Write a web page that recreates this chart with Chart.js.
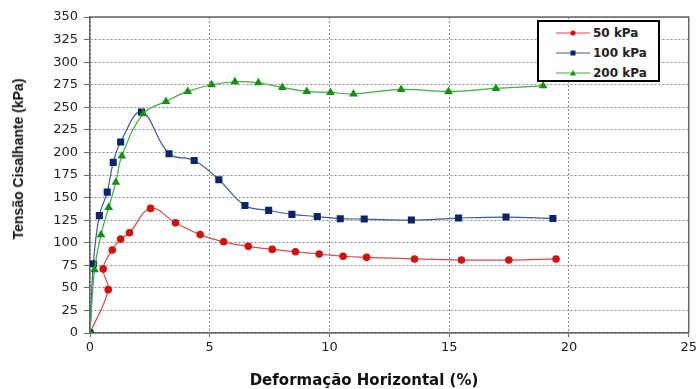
<!DOCTYPE html>
<html lang="pt">
<head>
<meta charset="UTF-8">
<title>Tensão x Deformação</title>
<script src="https://cdn.jsdelivr.net/npm/chart.js"></script>
<style>
    html, body { margin: 0; padding: 0; background: #fff; }
    .wrap { position: relative; width: 700px; height: 389px; }
    canvas { position: absolute; left: 0; top: 0; }
    .ytitle {
        position: absolute; left: 18px; top: 159px;
        transform: translate(-50%, -50%) rotate(-90deg);
        font: bold 14px "Liberation Sans", Arial, sans-serif;
        color: #111; white-space: nowrap;
    }
    .xtitle {
        position: absolute; left: 364px; top: 380px;
        transform: translate(-50%, -50%);
        font: bold 15px "DejaVu Sans", sans-serif;
        color: #111; white-space: nowrap;
    }
    .legend {
        position: absolute; left: 537px; top: 20px; width: 119px; height: 58px;
        border: 2px solid #000; background: #fff;
        font: bold 12px "DejaVu Sans", sans-serif; color: #222;
    }
    .legend .row { position: absolute; left: 0; height: 14px; }
    .legend .row span.txt { position: absolute; left: 54px; top: 0; line-height: 14px; white-space: nowrap; }
    .legend canvas { position: absolute; left: 17px; top: 0; }
</style>
</head>
<body>
<div class="wrap">
    <canvas id="chart" width="700" height="389"></canvas>
    <div class="ytitle">Tensão Cisalhante (kPa)</div>
    <div class="xtitle">Deformação Horizontal (%)</div>
    <div class="legend" id="legend"></div>
</div>
<script>
    // 50 kPa
    const x50 = [0, 0.76, 0.55, 0.93, 1.28, 1.65, 2.53, 3.57, 4.6, 5.58, 6.61, 7.61, 8.58, 9.57, 10.57, 11.55, 13.55, 15.51, 17.49, 19.46];
    const y50 = [0, 48, 71, 92, 104, 111, 138, 122, 109, 101, 96, 92.6, 90, 87.5, 85, 83.8, 82, 80.8, 80.8, 82];
    // 100 kPa
    const x100 = [0, 0.14, 0.39, 0.72, 0.97, 1.28, 2.15, 3.3, 4.35, 5.38, 6.47, 7.46, 8.43, 9.49, 10.45, 11.45, 13.42, 15.39, 17.37, 19.33];
    const y100 = [0, 76.7, 130, 156, 189, 211.5, 244.7, 198.6, 191, 169.8, 141.3, 135.8, 131.4, 129, 126.6, 126.2, 125.1, 127.3, 128.4, 126.9];
    // 200 kPa
    const x200 = [0, 0.19, 0.46, 0.78, 1.08, 1.33, 2.22, 3.17, 4.08, 5.08, 6.05, 7.03, 8.03, 9.05, 10.04, 11.0, 12.99, 14.97, 16.95, 18.92];
    const y200 = [0, 70, 108.9, 139, 167, 196, 242.8, 256.5, 267.6, 275, 278.3, 277.2, 272, 267.6, 266.5, 264.7, 269.8, 267.6, 270.9, 273.8];

    const seriesNames = ['50 kPa', '100 kPa', '200 kPa'];
    const lineColors = ['#e04848', '#3d5a96', '#3fae3f'];
    const markColors = ['#d41010', '#0c2468', '#0f940f'];
    const markStyles = ['circle', 'rect', 'triangle'];
    const markSizes = [3.8, 5, 5];

    const xMax = 25, xStep = 5;
    const yMax = 350, yStep = 25;

    function pts(xs, ys) {
        return xs.map((x, i) => ({ x: x, y: ys[i] }));
    }

    const allData = [pts(x50, y50), pts(x100, y100), pts(x200, y200)];

    const datasets = allData.map((d, i) => ({
        label: seriesNames[i],
        data: d,
        borderColor: lineColors[i],
        borderWidth: 1.2,
        backgroundColor: markColors[i],
        pointBackgroundColor: markColors[i],
        pointBorderColor: markColors[i],
        pointBorderWidth: 0,
        pointStyle: markStyles[i],
        pointRadius: markSizes[i],
        tension: 0.4,
        fill: false,
        order: 2 - i // green on top
    }));

    // frame on top & right of plot area
    const framePlugin = {
        id: 'frame',
        beforeDatasetsDraw(chart) {
            const a = chart.chartArea, ctx = chart.ctx;
            ctx.save();
            ctx.strokeStyle = '#666';
            ctx.lineWidth = 1.5;
            ctx.beginPath();
            ctx.moveTo(a.left, a.top);
            ctx.lineTo(a.right, a.top);
            ctx.lineTo(a.right, a.bottom);
            ctx.stroke();
            ctx.restore();
        }
    };

    const tickFont = { family: 'DejaVu Sans', size: 13 };

    new Chart(document.getElementById('chart'), {
        type: 'line',
        data: { datasets: datasets },
        options: {
            responsive: false,
            animation: false,
            layout: { padding: { left: 0, right: 10, top: 17, bottom: 0 } },
            plugins: { legend: { display: false }, tooltip: { enabled: false } },
            scales: {
                x: {
                    type: 'linear', min: 0, max: xMax,
                    ticks: { stepSize: xStep, color: '#222', font: tickFont, padding: 3, maxRotation: 0 },
                    grid: { color: '#8a8a8a', lineWidth: 1, tickLength: 4, tickColor: '#666', tickBorderDash: [] },
                    border: { display: true, color: '#666', width: 1.5, dash: [2, 2] },
                    afterFit(scale) { scale.height = 56; }
                },
                y: {
                    min: 0, max: yMax,
                    ticks: { stepSize: yStep, color: '#222', font: tickFont, padding: 6 },
                    grid: { color: '#8a8a8a', lineWidth: 1, tickLength: 6, tickColor: '#666', tickBorderDash: [] },
                    border: { display: true, color: '#666', width: 1.5, dash: [2, 2] },
                    afterFit(scale) { scale.width = 90; }
                }
            }
        },
        plugins: [framePlugin]
    });

    // legend built from the series
    const legend = document.getElementById('legend');
    seriesNames.forEach((name, i) => {
        const row = document.createElement('div');
        row.className = 'row';
        row.style.top = (4 + i * 20) + 'px';
        const c = document.createElement('canvas');
        c.width = 34; c.height = 14;
        const g = c.getContext('2d');
        g.strokeStyle = lineColors[i];
        g.lineWidth = 1.2;
        g.beginPath(); g.moveTo(0, 7); g.lineTo(34, 7); g.stroke();
        g.fillStyle = markColors[i];
        g.beginPath();
        if (markStyles[i] === 'circle') g.arc(17, 7, 2.6, 0, Math.PI * 2);
        else if (markStyles[i] === 'rect') g.rect(14.5, 4.5, 5, 5);
        else { g.moveTo(17, 4); g.lineTo(20, 9.5); g.lineTo(14, 9.5); g.closePath(); }
        g.fill();
        const t = document.createElement('span');
        t.className = 'txt';
        t.textContent = name;
        row.appendChild(c);
        row.appendChild(t);
        legend.appendChild(row);
    });
</script>
</body>
</html>
